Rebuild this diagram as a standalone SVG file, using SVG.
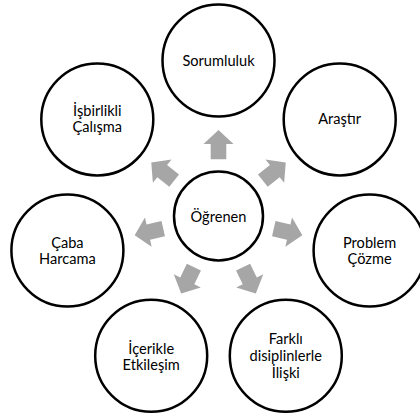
<svg xmlns="http://www.w3.org/2000/svg" width="420" height="413" viewBox="0 0 420 413">
  <defs>
    <style>
      .node { fill: #ffffff; stroke: #000000; stroke-width: 2.5; }
      .lbl { font-family: Lato, "Open Sans", "Liberation Sans", sans-serif; font-size: 14.6px; fill: #000000; text-anchor: middle; }
      .arr { fill: #a6a6a6; }
    </style>
    <polygon id="arrow" points="-7.8,-56.7 -7.8,-72 -15,-72 0,-86 15,-72 7.8,-72 7.8,-56.7"/>
  </defs>
  <rect width="420" height="413" fill="#ffffff"/>
  <g id="connectors" class="arr" transform="translate(218.5,216)">
    <use href="#arrow" transform="rotate(0)"/>
    <use href="#arrow" transform="rotate(51.43)"/>
    <use href="#arrow" transform="rotate(102.86)"/>
    <use href="#arrow" transform="rotate(154.29)"/>
    <use href="#arrow" transform="rotate(205.71)"/>
    <use href="#arrow" transform="rotate(257.14)"/>
    <use href="#arrow" transform="rotate(308.57)"/>
  </g>
  <g id="ogrenen">
    <circle class="node" cx="218.5" cy="216" r="44.5"/>
    <text class="lbl" x="218.5" y="222">Öğrenen</text>
  </g>
  <g id="sorumluluk">
    <circle class="node" cx="218.5" cy="60.5" r="56"/>
    <text class="lbl" x="218.5" y="65.6">Sorumluluk</text>
  </g>
  <g id="arastir">
    <circle class="node" cx="339.7" cy="119.4" r="56"/>
    <text class="lbl" x="339.7" y="124.4">Araştır</text>
  </g>
  <g id="problem-cozme">
    <circle class="node" cx="369.6" cy="250.5" r="56"/>
    <text class="lbl" x="369.6" y="248.3">Problem</text>
    <text class="lbl" x="369.6" y="264.3">Çözme</text>
  </g>
  <g id="farkli-disiplinlerle">
    <circle class="node" cx="285.8" cy="355.7" r="56"/>
    <text class="lbl" x="285.8" y="344.2">Farklı</text>
    <text class="lbl" x="285.8" y="361">disiplinlerle</text>
    <text class="lbl" x="285.8" y="377.7">İlişki</text>
  </g>
  <g id="icerikle-etkilesim">
    <circle class="node" cx="151.2" cy="355.7" r="56"/>
    <text class="lbl" x="151.2" y="354">İçerikle</text>
    <text class="lbl" x="151.2" y="369.5">Etkileşim</text>
  </g>
  <g id="caba-harcama">
    <circle class="node" cx="67.4" cy="250.5" r="56"/>
    <text class="lbl" x="67.4" y="248.3">Çaba</text>
    <text class="lbl" x="67.4" y="264.3">Harcama</text>
  </g>
  <g id="isbirlikli-calisma">
    <circle class="node" cx="97.3" cy="119.4" r="56"/>
    <text class="lbl" x="97.3" y="115.5">İşbirlikli</text>
    <text class="lbl" x="97.3" y="131.8">Çalışma</text>
  </g>
</svg>
